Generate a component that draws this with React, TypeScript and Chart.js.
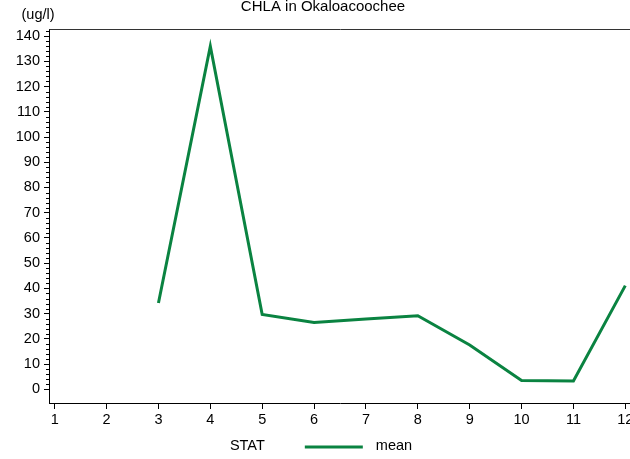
import React, { useEffect, useRef } from "react";
import { Chart, registerables } from "chart.js";

Chart.register(...registerables);

const months = [1, 2, 3, 4, 5, 6, 7, 8, 9, 10, 11, 12];
const meanValues: (number | null)[] = [null, null, 34.2, 136, 29.7, 26.5, 27.9, 29.2, 17.6, 3.5, 3.3, 41.1];
const titleText = "CHLA in Okaloacoochee";
const unitText = "(ug/l)";
const legendTitle = "STAT";
const seriesName = "mean";
const lineColor = "#0a8341";
const FONT = "'Liberation Sans', Arial, Helvetica, sans-serif";

const W = 646;
const H = 459;

const decorPlugin = {
  id: "decor",
  afterDraw(chart: any) {
    const ctx = chart.ctx as CanvasRenderingContext2D;
    const ca = chart.chartArea;
    const y = chart.scales.y;
    ctx.save();
    ctx.strokeStyle = "#333";
    ctx.lineWidth = 1;
    ctx.beginPath();
    ctx.moveTo(Math.round(ca.left) + 0.5, Math.round(ca.top) + 0.5);
    ctx.lineTo(Math.round(ca.right) + 0.5, Math.round(ca.top) + 0.5);
    ctx.lineTo(Math.round(ca.right) + 0.5, Math.round(ca.bottom) + 0.5);
    ctx.stroke();
    ctx.strokeStyle = "#000";
    ctx.beginPath();
    for (let v = 2; v <= 142; v += 2) {
      if (v % 10 === 0) continue;
      const py = Math.round(y.getPixelForValue(v)) + 0.5;
      ctx.moveTo(ca.left - 3, py);
      ctx.lineTo(ca.left, py);
    }
    ctx.stroke();
    ctx.fillStyle = "#000";
    ctx.font = `15px ${FONT}`;
    ctx.textAlign = "center";
    ctx.textBaseline = "middle";
    ctx.fillText(titleText, W / 2, 7);
    ctx.font = `14.5px ${FONT}`;
    ctx.fillText(unitText, 38, 15);
    ctx.font = `14.5px ${FONT}`;
    const statW = ctx.measureText(legendTitle).width;
    const nameW = ctx.measureText(seriesName).width;
    const gap1 = 40, lineLen = 58, gap2 = 13;
    const total = statW + gap1 + lineLen + gap2 + nameW;
    let x0 = 321 - total / 2;
    const ly = 446;
    ctx.textAlign = "left";
    ctx.fillText(legendTitle, x0, ly);
    x0 += statW + gap1;
    ctx.strokeStyle = lineColor;
    ctx.lineWidth = 3;
    ctx.beginPath();
    ctx.moveTo(x0, ly + 1);
    ctx.lineTo(x0 + lineLen, ly + 1);
    ctx.stroke();
    x0 += lineLen + gap2;
    ctx.fillText(seriesName, x0, ly);
    ctx.restore();
  },
};

export default function App() {
  const ref = useRef<HTMLCanvasElement>(null);
  useEffect(() => {
    if (!ref.current) return;
    const chart = new Chart(ref.current, {
      type: "line",
      data: {
        datasets: [
          {
            label: seriesName,
            data: months.map((m, i) => ({ x: m, y: meanValues[i] })) as any,
            borderColor: lineColor,
            borderWidth: 3,
            pointRadius: 0,
            fill: false,
            spanGaps: false,
            tension: 0,
            borderJoinStyle: "miter",
          },
        ],
      },
      options: {
        responsive: false,
        animation: false,
        devicePixelRatio: 1,
        layout: { padding: { top: 29, right: 15, left: 0, bottom: 0 } },
        plugins: { legend: { display: false }, title: { display: false }, tooltip: { enabled: false } },
        scales: {
          x: {
            type: "linear",
            min: 0.89,
            max: 12.11,
            afterFit: (s: any) => { s.height = 56; },
            ticks: {
              stepSize: 1,
              includeBounds: false,
              color: "#000",
              font: { family: FONT, size: 14.5 },
              padding: 2,
              maxRotation: 0,
              autoSkip: false,
            },
            grid: { display: true, drawOnChartArea: false, drawTicks: true, tickLength: 6, color: "#000" },
            border: { display: true, color: "#000", width: 1 },
          },
          y: {
            type: "linear",
            min: -5.4,
            max: 142.8,
            afterFit: (s: any) => { s.width = 49; },
            ticks: {
              stepSize: 10,
              includeBounds: false,
              color: "#000",
              font: { family: FONT, size: 14.5 },
              padding: 4,
            },
            grid: { display: true, drawOnChartArea: false, drawTicks: true, tickLength: 5, color: "#000" },
            border: { display: true, color: "#000", width: 1 },
          },
        },
      },
      plugins: [decorPlugin],
    });
    return () => chart.destroy();
  }, []);
  return (
    <div style={{ position: "fixed", left: 0, top: 0, width: 630, height: H, overflow: "hidden", background: "#fff" }}>
      <canvas ref={ref} width={W} height={H} style={{ width: W, height: H, display: "block" }} />
    </div>
  );
}
